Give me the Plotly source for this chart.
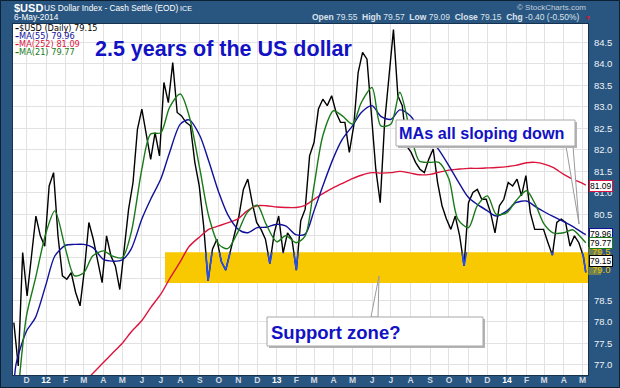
import plotly.graph_objects as go
import pandas as pd

# ---------------- data ----------------
price_dates = list(pd.date_range("2011-11-11", "2014-05-02", freq="W-FRI").strftime("%Y-%m-%d")) + ["2014-05-06"]
price_close = [
    77.98, 76.97, 79.61, 78.60, 79.53, 80.46, 80.00, 79.76, 81.16, 81.47,
    80.00, 79.07, 78.99, 79.14, 78.68, 78.37, 79.22, 80.31, 79.92, 79.38,
    78.91, 80.00, 79.53, 79.30, 78.75, 79.69, 80.62, 81.24, 82.48, 82.95,
    82.40, 81.78, 82.40, 81.86, 83.57, 83.10, 84.03, 82.87, 82.79, 82.64,
    82.56, 81.71, 81.16, 80.23, 78.95, 79.69, 79.92, 79.40, 79.20, 79.61,
    80.00, 80.46, 81.08, 81.32, 80.77, 80.31, 80.15, 79.92, 79.35, 80.07,
    80.46, 79.60, 80.07, 79.92, 79.20, 80.35, 80.62, 81.86, 82.17, 82.95,
    83.18, 83.03, 83.26, 82.87, 82.64, 82.64, 81.94, 82.56, 83.80, 84.27,
    84.11, 82.79, 81.55, 80.77, 82.64, 83.72, 84.80, 83.26, 83.03, 82.09,
    81.94, 81.71, 81.55, 81.47, 81.78, 82.02, 81.24, 80.70, 80.39, 80.15,
    80.46, 80.00, 79.30, 80.77, 81.01, 81.08, 80.85, 80.85, 80.54, 80.07,
    80.70, 80.85, 81.24, 81.16, 81.32, 80.93, 81.40, 80.54, 80.15, 80.15,
    80.15, 79.84, 79.55, 80.31, 80.39, 80.31, 79.76, 80.00, 79.84, 79.53,
    79.15,
]

ma_dates_a = ["2011-12-01", "2011-12-15", "2012-01-01", "2012-01-15", "2012-02-01",
              "2012-02-15", "2012-03-01", "2012-03-15", "2012-04-01", "2012-04-15",
              "2012-05-01", "2012-05-15", "2012-06-01", "2012-06-15", "2012-07-01",
              "2012-07-15", "2012-08-01", "2012-08-15", "2012-09-01", "2012-09-15",
              "2012-10-01", "2012-10-15", "2012-11-01", "2012-11-15", "2012-12-01",
              "2012-12-15", "2013-01-01", "2013-01-15", "2013-02-01", "2013-02-15",
              "2013-03-01", "2013-03-15", "2013-04-01", "2013-04-15", "2013-05-01",
              "2013-05-15", "2013-06-01", "2013-06-15", "2013-07-01", "2013-07-15",
              "2013-08-01", "2013-08-15", "2013-09-01", "2013-09-15", "2013-10-01",
              "2013-10-15", "2013-11-01", "2013-11-15", "2013-12-01", "2013-12-15",
              "2014-01-01", "2014-01-15", "2014-02-01", "2014-02-15", "2014-03-01",
              "2014-03-15", "2014-04-01", "2014-04-15", "2014-05-01", "2014-05-06"]

ma21_dates = ["2011-11-20"] + ma_dates_a
ma21_values = [76.70,
    78.13, 78.99, 80.07, 80.58, 79.69, 79.07, 79.14, 79.53, 79.65, 79.53,
    79.49, 80.07, 81.55, 82.37, 82.40, 82.99, 83.30, 82.79, 81.55, 80.46,
    79.80, 79.70, 80.11, 80.54, 80.71, 80.27, 79.86, 80.00, 79.84, 80.00,
    81.16, 82.33, 82.91, 82.79, 82.60, 83.10, 83.45, 82.56, 82.60, 83.34,
    82.40, 81.74, 81.71, 81.71, 81.32, 80.39, 80.19, 80.70, 80.93, 80.50,
    80.54, 80.81, 81.05, 80.73, 80.27, 80.07, 80.07, 80.14, 79.92, 79.84]

ma55_dates = ["2011-11-12", "2011-11-15"] + ma_dates_a
ma55_values = [76.70, 77.05,
    77.78, 78.09, 78.87, 79.53, 79.78, 79.80, 79.80, 79.73, 79.45, 79.41,
    79.44, 79.69, 80.39, 80.85, 81.32, 81.94, 82.60, 82.70, 82.33, 81.74,
    81.01, 80.50, 80.15, 80.07, 80.19, 80.20, 80.27, 80.23, 80.02, 80.04,
    80.58, 81.16, 81.82, 82.25, 82.56, 82.87, 83.03, 82.78, 82.71, 82.93,
    82.79, 82.50, 82.26, 82.00, 81.63, 81.28, 80.89, 80.73, 80.58, 80.46,
    80.58, 80.77, 80.81, 80.68, 80.56, 80.45, 80.33, 80.22, 80.07, 80.03]

ma252_dates = ["2012-03-12"] + ma_dates_a[8:]
ma252_values = [76.75,
    77.05, 77.26, 77.50, 77.76, 78.03, 78.33, 78.64, 79.00, 79.40, 79.75,
    79.98, 80.15, 80.23, 80.30, 80.40, 80.58, 80.70, 80.70, 80.67, 80.66,
    80.66, 80.71, 80.85, 80.98, 81.12, 81.22, 81.33, 81.41, 81.47, 81.46,
    81.47, 81.50, 81.46, 81.42, 81.43, 81.48, 81.53, 81.55, 81.57, 81.57,
    81.58, 81.59, 81.61, 81.64, 81.70, 81.71, 81.67, 81.59, 81.43, 81.32,
    81.22, 81.18]

support_zone = [78.90, 79.62]
support_start = "2012-07-07 17:00"

last_values = {"price": "79.15", "ma55": "79.96", "ma252": "81.09", "ma21": "79.77"}
y_tick_vals = [77.0, 77.5, 78.0, 78.5, 79.0, 79.5, 80.0, 80.5, 81.0, 81.5, 82.0, 82.5, 83.0, 83.5, 84.0, 84.5]
month_tick_dates = list(pd.date_range("2011-12-01", "2014-05-01", freq="MS").strftime("%Y-%m-%d"))
month_tick_labels = ["D", "12", "F", "M", "A", "M", "J", "J", "A", "S", "O", "N",
                     "D", "13", "F", "M", "A", "M", "J", "J", "A", "S", "O", "N",
                     "D", "14", "F", "M", "A", "M"]

# ---------------- layout helpers ----------------
W, H = 620, 388
L, R, T, B = 13, 588, 24, 375
x_range = ["2011-11-09 16:00", "2014-05-09 12:00"]
y_range = [76.76, 84.93]


def px(x):
    return (x - L) / (R - L)


def py(y):
    return (B - y) / (B - T)


FRAME = "#295680"
BLUE_TXT = "#1212c4"
C_PRICE, C_MA55, C_MA252, C_MA21 = "#000000", "#10109a", "#dc143c", "#1a7a1a"
C_ZONE_LINE = "#1f4fff"
SANS = "Liberation Sans, Arial, sans-serif"

n = min(len(price_dates), len(price_close))

fig = go.Figure()
fig.add_trace(go.Scatter(x=price_dates[:n], y=price_close[:n], mode="lines",
                         line=dict(color=C_PRICE, width=1.4), hoverinfo="skip"))
fig.add_trace(go.Scatter(x=ma252_dates, y=ma252_values, mode="lines",
                         line=dict(color=C_MA252, width=1.4, shape="spline", smoothing=0.8), hoverinfo="skip"))
fig.add_trace(go.Scatter(x=ma55_dates, y=ma55_values, mode="lines",
                         line=dict(color=C_MA55, width=1.4, shape="spline", smoothing=0.8), hoverinfo="skip"))
fig.add_trace(go.Scatter(x=ma21_dates, y=ma21_values, mode="lines",
                         line=dict(color=C_MA21, width=1.4, shape="spline", smoothing=0.8), hoverinfo="skip"))
# price line re-drawn in blue, clipped to the support zone (subplot x2/y2 covers only the zone)
fig.add_trace(go.Scatter(x=price_dates[:n], y=price_close[:n], mode="lines", xaxis="x2", yaxis="y2",
                         line=dict(color=C_ZONE_LINE, width=1.6), hoverinfo="skip"))

xs, xe = pd.Timestamp(x_range[0]), pd.Timestamp(x_range[1])
x2_start = (pd.Timestamp(support_start) - xs) / (xe - xs)
y2_lo = (support_zone[0] - y_range[0]) / (y_range[1] - y_range[0])
y2_hi = (support_zone[1] - y_range[0]) / (y_range[1] - y_range[0])

# ticks hidden behind the last-value boxes / redrawn in the zone colour are left blank here
hidden_ticks = (79.0, 79.5, 80.0)
y_tick_text = ["" if v in hidden_ticks else f"{v:.1f}" for v in y_tick_vals]

x_tick_text = []
for lab in month_tick_labels:
    if lab.isdigit():
        x_tick_text.append(f"<b>{lab}</b>")
    else:
        x_tick_text.append(f"<b><span style='color:#d3dae2'>{lab}</span></b>")

fig.update_layout(
    template="none",
    width=W, height=H,
    autosize=False,
    margin=dict(l=L, r=W - R, t=T, b=H - B, pad=0, autoexpand=False),
    paper_bgcolor=FRAME,
    plot_bgcolor="rgba(0,0,0,0)",
    showlegend=False,
    xaxis=dict(type="date", range=x_range, tickmode="array", tickvals=month_tick_dates, ticktext=x_tick_text,
               automargin=False,
               showgrid=True, gridcolor="#e2e2e2", gridwidth=1, ticks="", ticklabelstandoff=-3,
               tickfont=dict(family=SANS, size=8.5, color="#ffffff"),
               showline=True, mirror=True, linecolor="#17324f", linewidth=1, zeroline=False),
    yaxis=dict(range=y_range, side="right", tickmode="array", tickvals=y_tick_vals, ticktext=y_tick_text,
               automargin=False,
               showgrid=True, gridcolor="#e2e2e2", gridwidth=1, ticks="", ticklabelstandoff=3,
               tickfont=dict(family=SANS, size=9.5, color="#eef2f7"),
               showline=True, mirror=True, linecolor="#17324f", linewidth=1, zeroline=False),
    xaxis2=dict(type="date", domain=[x2_start, 1], range=[support_start, x_range[1]], anchor="y2",
                visible=False, showgrid=False, automargin=False),
    yaxis2=dict(domain=[y2_lo, y2_hi], range=support_zone, anchor="x2", visible=False, showgrid=False,
                automargin=False),
)

shapes = [
    # white plot area
    dict(type="rect", xref="paper", yref="paper", x0=0, x1=1, y0=0, y1=1,
         fillcolor="white", line=dict(width=0), layer="below"),
    # legend backdrop
    dict(type="rect", xref="paper", yref="paper", x0=px(13.5), x1=px(112), y0=py(56), y1=py(24.5),
         fillcolor="white", line=dict(width=0), layer="between"),
    # support zone band
    dict(type="rect", xref="x", yref="y", x0=support_start, x1=x_range[1],
         y0=support_zone[0], y1=support_zone[1], fillcolor="#f8c800", line=dict(width=0), layer="between"),
    # zone tint beside the axis labels
    dict(type="rect", xref="paper", yref="paper", x0=px(588), x1=px(601), y0=py(275), y1=py(247),
         fillcolor="rgba(190,180,40,0.45)", line=dict(width=0), layer="above"),
    # outer frame
    dict(type="rect", xref="paper", yref="paper", x0=px(0.5), x1=px(619.5), y0=py(387.5), y1=py(0.5),
         line=dict(color="#0d1f33", width=1), fillcolor="rgba(0,0,0,0)", layer="above"),
    # callout wedges
    dict(type="path", xref="paper", yref="paper",
         path=f"M {px(566)} {py(146)} L {px(579)} {py(224)} L {px(573)} {py(146)} Z",
         fillcolor="white", line=dict(color="#9a9a9a", width=1), layer="above"),
    dict(type="path", xref="paper", yref="paper",
         path=f"M {px(371)} {py(317)} L {px(379)} {py(276)} L {px(378)} {py(317)} Z",
         fillcolor="white", line=dict(color="#9a9a9a", width=1), layer="above"),
    # callout box shadows + boxes
    dict(type="rect", xref="paper", yref="paper", x0=px(398), x1=px(577), y0=py(148), y1=py(122),
         fillcolor="#b4b4b4", line=dict(width=0), layer="above"),
    dict(type="rect", xref="paper", yref="paper", x0=px(396), x1=px(575), y0=py(146), y1=py(120),
         fillcolor="white", line=dict(color="#a8a8a8", width=1), layer="above"),
    dict(type="rect", xref="paper", yref="paper", x0=px(269), x1=px(485), y0=py(348), y1=py(319),
         fillcolor="#b4b4b4", line=dict(width=0), layer="above"),
    dict(type="rect", xref="paper", yref="paper", x0=px(267), x1=px(483), y0=py(346), y1=py(317),
         fillcolor="white", line=dict(color="#a8a8a8", width=1), layer="above"),
]
fig.update_layout(shapes=shapes)

ann = []


def text(x, y, s, size, color, family=SANS, xanchor="left", bg=None, border=None):
    d = dict(x=px(x), y=py(y), xref="paper", yref="paper", text=s, showarrow=False,
             xanchor=xanchor, yanchor="middle", font=dict(family=family, size=size, color=color))
    if bg:
        d["bgcolor"] = bg
        d["borderpad"] = 0
    if border:
        d["bordercolor"] = border
        d["borderwidth"] = 1
        d["borderpad"] = 0
    ann.append(d)


# header
text(12, 8, "<b>$USD</b>", 11, "#ffffff")
text(42, 8, "US Dollar Index - Cash Settle (EOD)", 8.3, "#ffffff")
text(178, 8, "ICE", 7.2, "#ffffff")
text(12, 16.5, "6-May-2014", 8.3, "#ffffff")
text(588, 7, "\u00a9 StockCharts.com", 8, "#c5cfdb", xanchor="right")
nb = "\u00a0"
ohlc = (f"<b>Open</b> 79.55{nb}{nb}<b>High</b> 79.57{nb}{nb}<b>Low</b> 79.09{nb}{nb}"
        f"<b>Close</b> 79.15{nb}{nb}<b>Chg</b> -0.40 (-0.50%)")
text(582, 17, ohlc, 8.5, "#dbe3ec", xanchor="right")
text(583, 18, "\u25bc", 6, "#e0102a")

# legend
LEG = "DejaVu Sans, Verdana, sans-serif"
text(13, 27.7, f"<b>\u2013</b>$USD (Daily) {last_values['price']}", 8.2, C_PRICE, family=LEG)
text(13, 35.8, f"<b>\u2013</b>MA(55) {last_values['ma55']}", 8.2, C_MA55, family=LEG)
text(13, 43.9, f"<b>\u2013</b>MA(252) {last_values['ma252']}", 8.2, C_MA252, family=LEG)
text(13, 52.0, f"<b>\u2013</b>MA(21) {last_values['ma21']}", 8.2, C_MA21, family=LEG)

# title and callouts
text(93, 49, "<b>2.5 years of the US dollar</b>", 21.5, BLUE_TXT)
text(397, 133, "<b>MAs all sloping down</b>", 16.2, BLUE_TXT)
text(269, 332, "<b>Support zone?</b>", 18.5, BLUE_TXT)

# zone-coloured axis labels
text(590, 251, "79.5", 9.5, "#f2c200")
text(590, 269, "79.0", 9.5, "#f2c200")

# last-value boxes on the price axis
text(589, 186, last_values["ma252"], 8.5, "#000000", bg="white", border=C_MA252)
text(589, 234, last_values["ma55"], 8.5, "#000000", bg="white", border=C_MA55)
text(589, 243, last_values["ma21"], 8.5, "#000000", bg="white", border=C_MA21)
text(589, 261, last_values["price"], 8.5, "#000000", bg="white", border="#000000")

fig.update_layout(annotations=ann)
fig.write_html(
    "out.html",
    config={"displayModeBar": False},
    post_script="document.body.style.margin='0';document.body.style.overflow='hidden';",
)
